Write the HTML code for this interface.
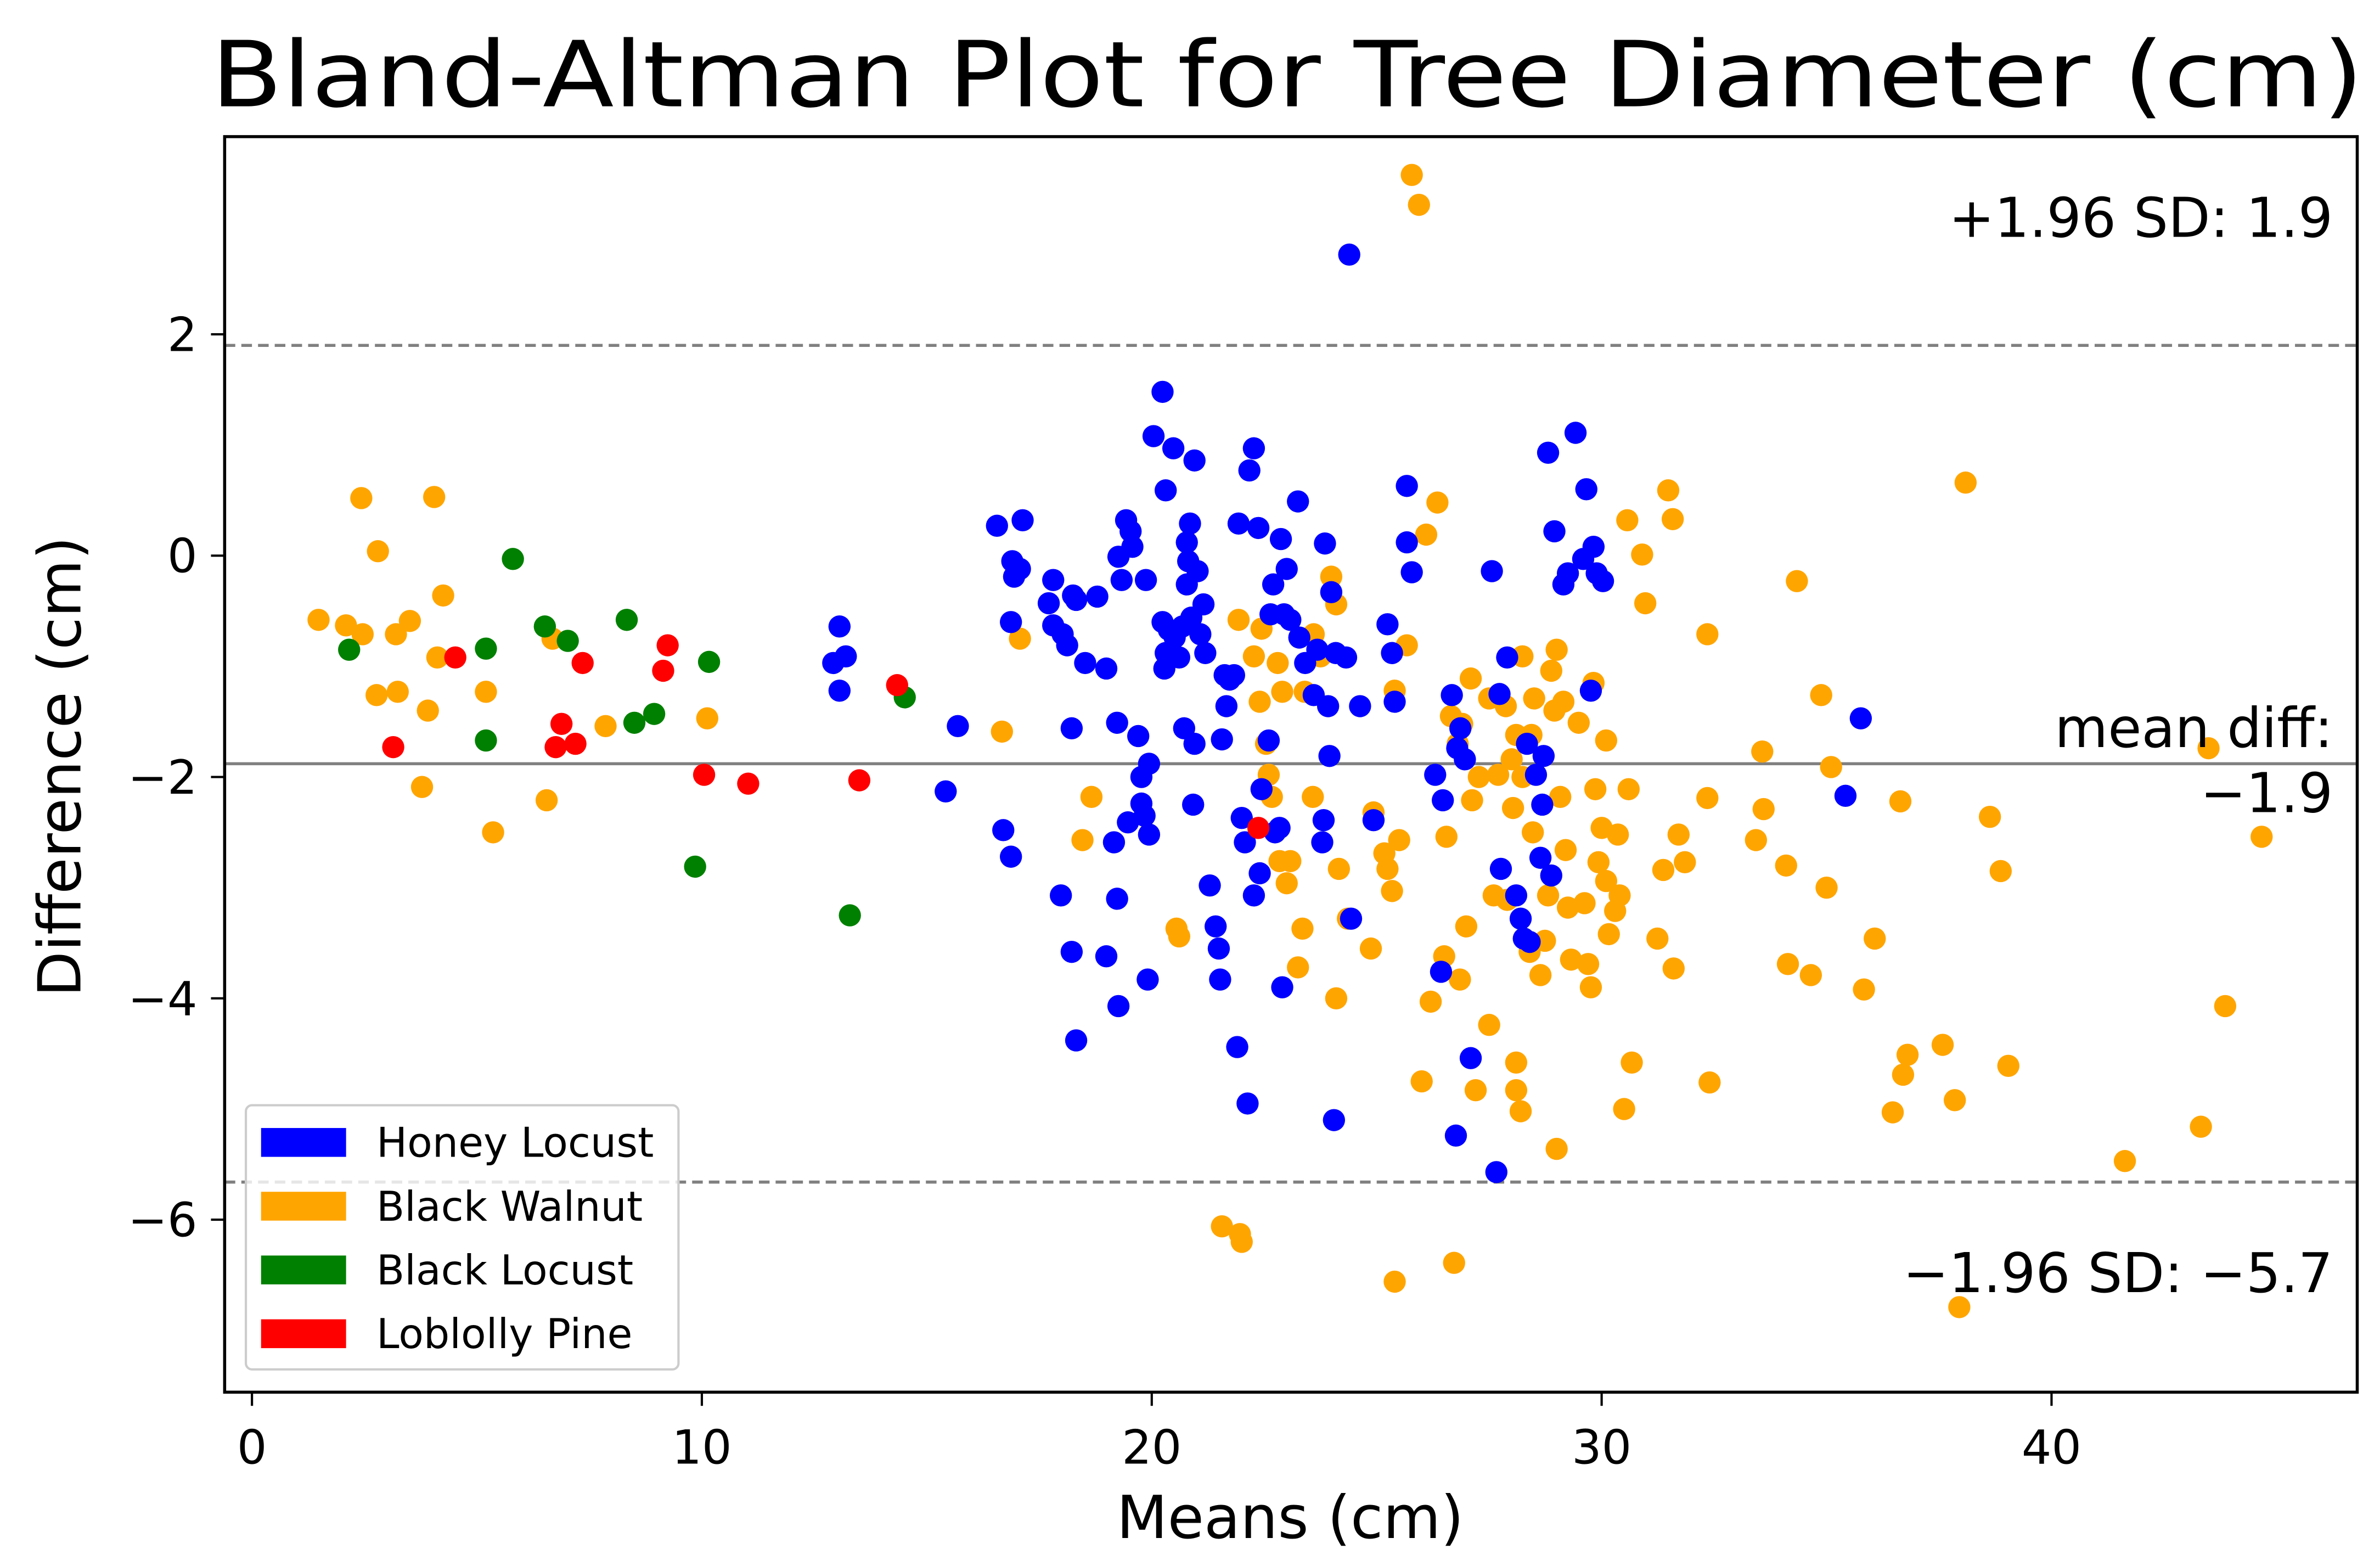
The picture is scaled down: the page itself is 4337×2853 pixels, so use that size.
<!DOCTYPE html>
<html><head><meta charset="utf-8">
<style>
html,body{margin:0;padding:0;background:#fff;}
svg{display:block;}
text{font-family:"DejaVu Sans","Liberation Sans",sans-serif;fill:#000;}
</style></head>
<body>
<svg id="chart" width="4337" height="2853" viewBox="0 0 1568 1031.5" preserveAspectRatio="none" xmlns="http://www.w3.org/2000/svg">
<rect width="1568" height="1031.5" fill="#fff"/>
<text x="848" y="70" font-size="60" text-anchor="middle" textLength="1418" lengthAdjust="spacingAndGlyphs">Bland-Altman Plot for Tree Diameter (cm)</text>
<g id="plot"></g>
<rect x="148" y="90" width="1405" height="827" fill="none" stroke="#000" stroke-width="2"/>
<text x="850" y="1013" font-size="39" text-anchor="middle">Means (cm)</text>
<text transform="translate(53,505) rotate(-90)" font-size="39" text-anchor="middle">Difference (cm)</text>
<text x="1537" y="156" font-size="36" text-anchor="end">+1.96 SD: 1.9</text>
<text x="1537" y="492" font-size="36" text-anchor="end">mean diff:</text>
<text x="1537" y="535" font-size="36" text-anchor="end">−1.9</text>
<text x="1537" y="851" font-size="36" text-anchor="end">−1.96 SD: −5.7</text>
<g>
<rect x="162" y="728" width="285" height="174" rx="4" fill="#fff" fill-opacity="0.8" stroke="#ccc" stroke-width="1.5"/>
<rect x="172" y="743" width="56" height="19" fill="#0000ff"/>
<text x="248" y="762" font-size="27">Honey Locust</text>
<rect x="172" y="785" width="56" height="19" fill="#ffa500"/>
<text x="248" y="804" font-size="27">Black Walnut</text>
<rect x="172" y="827" width="56" height="19" fill="#008000"/>
<text x="248" y="846" font-size="27">Black Locust</text>
<rect x="172" y="869" width="56" height="19" fill="#ff0000"/>
<text x="248" y="888" font-size="27">Loblolly Pine</text>
</g>
</svg>
<script>
const xTicks = [0, 10, 20, 30, 40];
const yTicks = [2, 0, -2, -4, -6];
const yTickLabels = ["2", "0", "−2", "−4", "−6"];
const meanDiff = -1.88;
const upperLoA = 1.9;
const lowerLoA = -5.66;

const walnutX = [1.48,2.09,2.43,2.46,2.8,2.77,3.2,3.24,3.51,3.78,3.91,4.05,4.12,4.25,5.2,5.36,6.55,6.68,7.86,10.12,16.67,17.07,18.46,18.66,20.55,20.61,21.93,22.27,22.44,22.4,22.54,22.6,22.67,22.8,22.9,22.84,23.08,23.0,23.25,23.35,23.4,23.58,23.6,23.75,23.99,24.1,24.1,24.16,24.36,24.87,24.93,25.17,25.24,25.34,25.4,25.4,25.5,25.78,25.94,25.67,26.0,26.1,26.2,26.35,26.5,26.55,26.65,26.72,26.85,26.99,27.09,27.2,27.12,26.8,26.9,27.27,27.5,27.5,27.6,27.7,27.87,27.9,28.0,28.03,28.1,28.1,28.1,28.2,28.24,28.24,28.4,28.44,28.47,28.5,28.64,28.74,28.81,28.88,28.95,29.0,29.0,29.08,29.15,29.2,29.25,29.32,29.49,29.62,29.7,29.76,29.82,29.86,29.93,30.0,30.1,30.1,30.16,30.3,30.36,30.4,30.5,30.57,30.6,30.67,30.9,30.97,31.24,31.37,31.48,31.58,31.6,31.71,31.85,32.35,32.35,32.4,33.43,33.57,33.6,34.1,34.34,34.14,34.65,34.88,35.0,35.1,35.83,36.07,36.47,36.64,36.7,36.8,37.58,37.85,37.95,38.09,38.63,38.87,39.04,41.63,43.32,43.49,43.86,44.67,21.56,21.96,22.0];
const walnutY = [-0.58,-0.63,0.52,-0.71,0.04,-1.26,-0.71,-1.23,-0.59,-2.09,-1.4,0.53,-0.92,-0.36,-1.23,-2.5,-2.21,-0.75,-1.54,-1.47,-1.59,-0.75,-2.57,-2.18,-3.37,-3.44,-0.58,-0.91,-0.66,-1.32,-1.7,-1.98,-2.18,-0.97,-1.23,-2.76,-2.76,-2.96,-3.72,-3.37,-1.23,-2.18,-0.71,-0.91,-0.19,-0.44,-4.0,-2.83,-3.28,-3.55,-2.32,-2.69,-2.83,-3.03,-1.22,-6.56,-2.57,3.44,3.17,-0.81,-4.75,0.19,-4.03,0.48,-3.62,-2.54,-1.45,-6.39,-3.83,-3.35,-1.11,-4.83,-2.21,-1.7,-1.52,-2.0,-1.29,-4.24,-3.07,-1.98,-1.36,-3.11,-1.84,-2.28,-1.62,-4.58,-4.83,-5.02,-2.0,-0.91,-3.58,-1.62,-2.5,-1.29,-3.79,-3.48,-3.07,-1.04,-1.4,-5.36,-0.85,-2.18,-1.32,-2.66,-3.18,-3.65,-1.51,-3.14,-3.69,-3.9,-1.15,-2.11,-2.77,-2.46,-1.67,-2.94,-3.42,-3.21,-2.52,-3.07,-5.0,0.32,-2.11,-4.58,0.01,-0.43,-3.46,-2.84,0.59,0.33,-3.73,-2.52,-2.77,-0.71,-2.19,-4.76,-2.57,-1.77,-2.29,-2.8,-0.23,-3.69,-3.79,-1.26,-3.0,-1.91,-3.92,-3.46,-5.03,-2.22,-4.69,-4.51,-4.42,-4.92,-6.79,0.66,-2.36,-2.85,-4.61,-5.47,-5.16,-1.74,-4.07,-2.54,-6.06,-6.13,-6.2];

const honeyX = [13.06,12.92,13.2,13.06,15.42,15.69,16.56,17.13,16.9,16.94,17.07,16.87,16.7,16.87,17.81,17.71,17.81,18.02,18.12,18.25,18.32,18.22,17.98,18.22,18.32,18.52,18.79,18.99,18.99,19.16,19.23,19.23,19.26,19.26,19.33,19.43,19.53,19.47,19.57,19.7,19.77,19.77,19.84,19.87,19.94,19.94,19.91,20.04,20.24,20.31,20.24,20.28,20.31,20.48,20.38,20.51,20.61,20.68,20.72,20.78,20.81,20.78,20.85,20.88,20.92,20.95,20.95,21.02,21.08,21.15,21.19,21.29,21.42,21.49,21.52,21.56,21.62,21.66,21.73,21.83,21.9,21.93,22.0,22.07,22.13,22.17,22.27,22.27,22.37,22.4,22.44,22.6,22.64,22.7,22.74,22.84,22.87,22.9,22.94,23.0,23.08,23.25,23.28,23.41,23.6,23.68,23.85,23.92,23.82,23.79,23.95,23.99,24.05,24.09,24.32,24.39,24.43,24.63,24.93,25.24,25.34,25.4,25.67,25.67,25.78,26.3,26.47,26.43,26.67,26.79,26.86,26.96,26.76,27.09,27.56,27.66,27.73,27.76,27.9,28.1,28.2,28.27,28.34,28.4,28.54,28.64,28.68,28.71,28.81,28.88,28.95,29.15,29.25,29.42,29.59,29.66,29.76,29.82,29.89,30.03,35.42,35.76];
const honeyY = [-0.64,-0.97,-0.91,-1.22,-2.13,-1.54,0.27,0.32,-0.05,-0.19,-0.12,-0.6,-2.48,-2.72,-0.22,-0.43,-0.63,-0.71,-0.81,-0.36,-0.4,-1.56,-3.07,-3.58,-4.38,-0.97,-0.37,-1.02,-3.62,-2.59,-3.1,-1.51,-4.07,-0.01,-0.22,0.32,0.22,-2.41,0.08,-1.63,-2.0,-2.24,-2.35,-0.22,-1.88,-2.52,-3.83,1.08,1.48,0.59,-0.6,-1.02,-0.88,0.97,-0.67,-0.74,-0.92,-0.64,-1.56,0.12,-0.05,-0.26,0.29,-0.56,-2.25,-1.7,0.86,-0.14,-0.71,-0.44,-0.88,-2.98,-3.35,-3.55,-3.83,-1.66,-1.08,-1.36,-1.12,-1.08,-4.44,0.29,-2.37,-2.59,-4.95,0.77,0.97,-3.07,0.25,-2.87,-2.11,-1.67,-0.53,-0.26,-2.5,-2.46,0.15,-3.9,-0.53,-0.12,-0.58,0.49,-0.74,-0.97,-1.26,-0.85,0.11,-1.36,-2.39,-2.59,-1.81,-0.33,-5.1,-0.88,-0.92,2.72,-3.28,-1.36,-2.39,-0.62,-0.88,-1.32,0.63,0.12,-0.15,-1.98,-2.21,-3.76,-1.26,-1.74,-1.56,-1.84,-5.24,-4.54,-0.14,-5.57,-1.25,-2.83,-0.92,-3.07,-3.28,-3.46,-1.7,-3.49,-1.98,-2.73,-2.25,-1.81,0.93,-2.89,0.22,-0.26,-0.16,1.11,-0.03,0.6,-1.22,0.08,-0.16,-0.23,-2.17,-1.47];

const blackLocustX = [2.16,5.2,5.2,5.8,6.51,7.02,8.33,8.5,8.94,9.85,10.16,13.29,14.51];
const blackLocustY = [-0.85,-0.84,-1.67,-0.03,-0.64,-0.77,-0.58,-1.51,-1.43,-2.81,-0.96,-3.25,-1.28];

const pineX = [3.14,4.52,6.75,6.88,7.19,7.35,9.14,9.24,10.05,11.03,13.5,14.34,22.37];
const pineY = [-1.73,-0.92,-1.73,-1.52,-1.7,-0.97,-1.04,-0.81,-1.98,-2.06,-2.03,-1.17,-2.46];

const NS = "http://www.w3.org/2000/svg";
const plot = document.getElementById('plot');
function xScale(v){ return 166 + v * 29.64; }
function yScale(v){ return 366 - v * 72.9; }

xTicks.forEach(function(t){
  const l = document.createElementNS(NS,'line');
  
  
  l.setAttribute('x1',xScale(t)); l.setAttribute('x2',xScale(t));
  l.setAttribute('y1',917); l.setAttribute('y2',926);
  l.setAttribute('stroke','#000'); l.setAttribute('stroke-width','1.5');
  plot.appendChild(l);
  const tx = document.createElementNS(NS,'text');
  
  
  tx.setAttribute('x',xScale(t)); tx.setAttribute('y',964);
  tx.setAttribute('font-size','31'); tx.setAttribute('text-anchor','middle');
  tx.textContent = String(t);
  plot.appendChild(tx);
});
yTicks.forEach(function(t,i){
  const l = document.createElementNS(NS,'line');
  
  
  l.setAttribute('x1',139); l.setAttribute('x2',148);
  l.setAttribute('y1',yScale(t)); l.setAttribute('y2',yScale(t));
  l.setAttribute('stroke','#000'); l.setAttribute('stroke-width','1.5');
  plot.appendChild(l);
  const tx = document.createElementNS(NS,'text');
  
  
  tx.setAttribute('x',130); tx.setAttribute('y',yScale(t)+11);
  tx.setAttribute('font-size','31'); tx.setAttribute('text-anchor','end');
  tx.textContent = yTickLabels[i];
  plot.appendChild(tx);
});

function refLine(v, dashed, name){
  const l = document.createElementNS(NS,'line');
  
  
  l.setAttribute('x1',148); l.setAttribute('x2',1553);
  l.setAttribute('y1',yScale(v)); l.setAttribute('y2',yScale(v));
  l.setAttribute('stroke','#808080'); l.setAttribute('stroke-width','2');
  if (dashed) l.setAttribute('stroke-dasharray','7,4');
  plot.appendChild(l);
}
refLine(upperLoA, true, 'upper-loa-line');
refLine(meanDiff, false, 'mean-diff-line');
refLine(lowerLoA, true, 'lower-loa-line');

function drawSeries(xs, ys, color, name){
  const g = document.createElementNS(NS,'g');
  
  
  for (let i=0;i<xs.length;i++){
    const c = document.createElementNS(NS,'circle');
    
    
    c.setAttribute('cx', xScale(xs[i]));
    c.setAttribute('cy', yScale(ys[i]));
    c.setAttribute('r', 7.3);
    c.setAttribute('fill', color);
    g.appendChild(c);
  }
  plot.appendChild(g);
}
drawSeries(walnutX, walnutY, '#ffa500', 'black-walnut-series');
drawSeries(honeyX, honeyY, '#0000ff', 'honey-locust-series');
drawSeries(blackLocustX, blackLocustY, '#008000', 'black-locust-series');
drawSeries(pineX, pineY, '#ff0000', 'loblolly-pine-series');
</script>
</body></html>
